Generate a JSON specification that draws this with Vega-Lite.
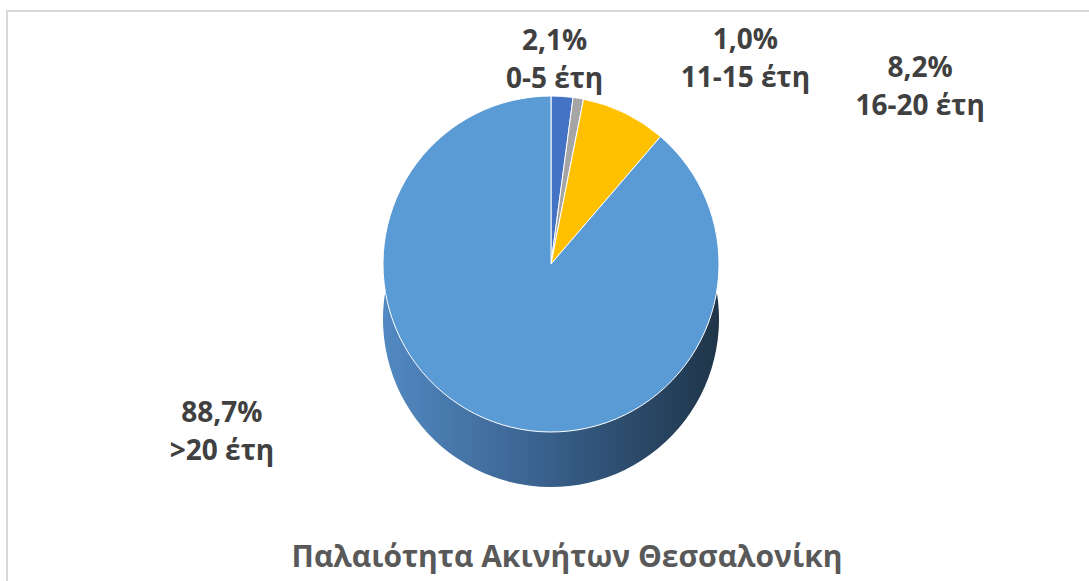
{
  "$schema": "https://vega.github.io/schema/vega-lite/v6.json",
  "width": 1089,
  "height": 581,
  "autosize": {"type": "fit", "contains": "padding"},
  "padding": {"left": 7, "top": 11, "right": -6, "bottom": -6},
  "background": "white",
  "view": {"stroke": "#d9d9d9", "strokeWidth": 2},
  "title": {
    "text": "Παλαιότητα Ακινήτων Θεσσαλονίκη",
    "orient": "bottom",
    "anchor": "middle",
    "offset": -44,
    "dx": 16,
    "font": "Open Sans",
    "fontSize": 30,
    "fontWeight": "bold",
    "color": "#595959"
  },
  "data": {
    "values": [
      {"group": "0-5 έτη", "value": 2.1, "order": 1},
      {"group": "11-15 έτη", "value": 1.0, "order": 2},
      {"group": "16-20 έτη", "value": 8.2, "order": 3},
      {"group": ">20 έτη", "value": 88.7, "order": 4}
    ]
  },
  "transform": [
    {"stack": "value", "groupby": [], "sort": [{"field": "order", "order": "ascending"}], "as": ["v0", "v1"]},
    {"calculate": "(datum.v0 + datum.v1) / 2", "as": "mid"},
    {"calculate": "[replace(format(datum.value, '.1f'), '.', ',') + '%', datum.group]", "as": "label"}
  ],
  "layer": [
    {
      "mark": {
        "type": "arc",
        "radius": 168,
        "yOffset": 20,
        "fill": {
          "gradient": "linear", "x1": 0, "y1": 0, "x2": 1, "y2": 0,
          "stops": [
            {"offset": 0, "color": "#5289c2"},
            {"offset": 0.5, "color": "#385f8a"},
            {"offset": 1, "color": "#1f3549"}
          ]
        }
      },
      "encoding": {
        "theta": {"field": "v0", "type": "quantitative", "scale": {"domain": [0, 100]}},
        "theta2": {"field": "v1"}
      }
    },
    {
      "mark": {"type": "arc", "radius": 168, "yOffset": -35, "stroke": "white", "strokeWidth": 1},
      "encoding": {
        "theta": {"field": "v0", "type": "quantitative", "scale": {"domain": [0, 100]}},
        "theta2": {"field": "v1"},
        "color": {
          "field": "group",
          "type": "nominal",
          "scale": {"domain": ["0-5 έτη", "11-15 έτη", "16-20 έτη", ">20 έτη"], "range": ["#4472C4", "#A5A5A5", "#FFC000", "#5B9BD5"]},
          "legend": null
        }
      }
    },
    {
      "transform": [{"filter": "datum.order == 1"}],
      "mark": {"type": "text", "radius": 236, "dx": -12, "dy": -22, "font": "Open Sans", "fontSize": 28, "fontWeight": "bold", "color": "#404040", "lineHeight": 38, "baseline": "middle", "align": "center"},
      "encoding": {"theta": {"field": "mid", "type": "quantitative", "scale": {"domain": [0, 100]}}, "text": {"field": "label"}}
    },
    {
      "transform": [{"filter": "datum.order == 2"}],
      "mark": {"type": "text", "radius": 236, "dx": 156, "dy": -25, "font": "Open Sans", "fontSize": 28, "fontWeight": "bold", "color": "#404040", "lineHeight": 38, "baseline": "middle", "align": "center"},
      "encoding": {"theta": {"field": "mid", "type": "quantitative", "scale": {"domain": [0, 100]}}, "text": {"field": "label"}}
    },
    {
      "transform": [{"filter": "datum.order == 3"}],
      "mark": {"type": "text", "radius": 236, "dx": 266, "dy": -18, "font": "Open Sans", "fontSize": 28, "fontWeight": "bold", "color": "#404040", "lineHeight": 38, "baseline": "middle", "align": "center"},
      "encoding": {"theta": {"field": "mid", "type": "quantitative", "scale": {"domain": [0, 100]}}, "text": {"field": "label"}}
    },
    {
      "transform": [{"filter": "datum.order == 4"}],
      "mark": {"type": "text", "radius": 236, "dx": -247, "dy": -106, "font": "Open Sans", "fontSize": 28, "fontWeight": "bold", "color": "#404040", "lineHeight": 38, "baseline": "middle", "align": "center"},
      "encoding": {"theta": {"field": "mid", "type": "quantitative", "scale": {"domain": [0, 100]}}, "text": {"field": "label"}}
    }
  ]
}
